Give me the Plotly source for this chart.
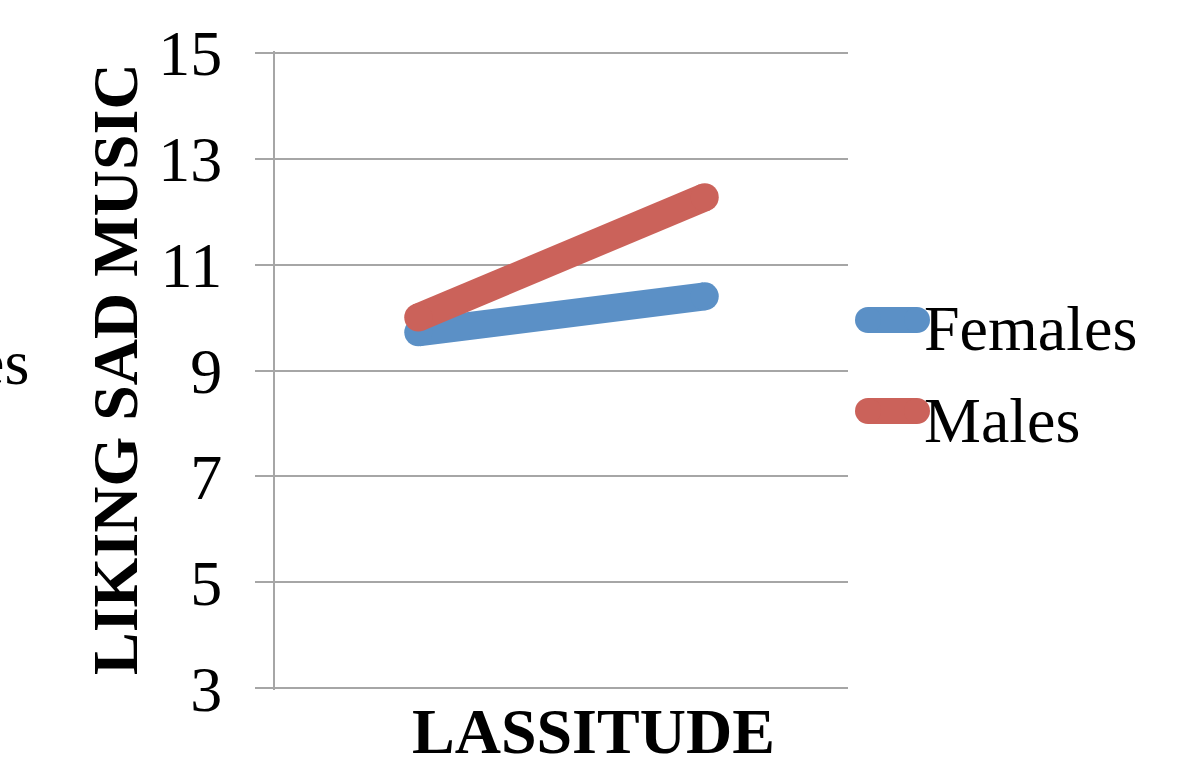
import plotly.graph_objects as go

# Data
lassitude_levels = ["Low", "High"]
series_names = ["Females", "Males"]
females = [9.72, 10.40]
males = [10.0, 12.27]
y_ticks = [3, 5, 7, 9, 11, 13, 15]

BLUE = "#5B90C6"
RED = "#CB625A"
GRID = "#A6A6A6"
FONT = "Liberation Serif, Times New Roman, serif"

W, H = 1185, 764
L, R, T, B = 275, 337, 51, 74
PW, PH = W - L - R, H - T - B


def px(x):
    return (x - L) / PW


def py(y):
    return (H - B - y) / PH


fig = go.Figure()
colors = [BLUE, RED]
for name, vals, col in zip(series_names, [females, males], colors):
    fig.add_trace(go.Scatter(x=lassitude_levels, y=vals, mode="lines", name=name,
                             line=dict(color=col, width=28), showlegend=False))
    fig.add_trace(go.Scatter(x=lassitude_levels, y=vals, mode="markers", showlegend=False,
                             marker=dict(color=col, size=28, line=dict(width=0)),
                             hoverinfo="skip"))

# legend (drawn manually to get thick, round-capped swatches)
shapes = []
annotations = []
legend_y = [320, 411]
for name, col, yc in zip(series_names, colors, legend_y):
    r = 13
    x0, x1 = 855 + r, 930 - r
    shapes.append(dict(type="line", xref="paper", yref="paper",
                       x0=px(x0), x1=px(x1), y0=py(yc), y1=py(yc),
                       line=dict(color=col, width=26)))
    for xc in (x0, x1):
        shapes.append(dict(type="circle", xref="paper", yref="paper",
                           x0=px(xc - r), x1=px(xc + r), y0=py(yc - r), y1=py(yc + r),
                           fillcolor=col, line=dict(width=0)))
    annotations.append(dict(text=name, xref="paper", yref="paper",
                            x=px(922), y=py(yc + 9), xanchor="left", yanchor="middle",
                            showarrow=False, font=dict(family=FONT, size=64, color="black")))

annotations += [
    dict(text="<b>LASSITUDE</b>", xref="paper", yref="paper", x=px(593), y=py(731),
         xanchor="center", yanchor="middle", showarrow=False,
         font=dict(family=FONT, size=64, color="black")),
    dict(text="<b>LIKING SAD MUSIC</b>", xref="paper", yref="paper", x=px(115), y=py(369),
         xanchor="center", yanchor="middle", textangle=-90, showarrow=False,
         font=dict(family=FONT, size=64, color="black")),
    dict(text="es", xref="paper", yref="paper", x=px(31), y=py(362),
         xanchor="right", yanchor="middle", showarrow=False,
         font=dict(family=FONT, size=64, color="black")),
]

fig.update_layout(
    width=W, height=H,
    margin=dict(l=L, r=R, t=T, b=B, autoexpand=False),
    paper_bgcolor="white", plot_bgcolor="white",
    font=dict(family=FONT, size=64, color="black"),
    showlegend=False,
    xaxis=dict(type="category", range=[-0.5, 1.5], showticklabels=False,
               showgrid=False, zeroline=False, showline=False, ticks="",
               automargin=False),
    yaxis=dict(range=[2.97, 15.03], tickvals=y_ticks, ticktext=[str(v) for v in y_ticks],
               showgrid=True, gridcolor=GRID, gridwidth=2,
               showline=True, linecolor=GRID, linewidth=2,
               ticks="outside", ticklen=18, tickwidth=2, tickcolor=GRID,
               ticklabelstandoff=20, zeroline=False, automargin=False,
               tickfont=dict(family=FONT, size=64, color="black")),
    shapes=shapes,
    annotations=annotations,
)

fig.write_html("out.html", config={"displayModeBar": False},
               post_script="document.body.style.margin='0';document.body.style.overflow='hidden';")
